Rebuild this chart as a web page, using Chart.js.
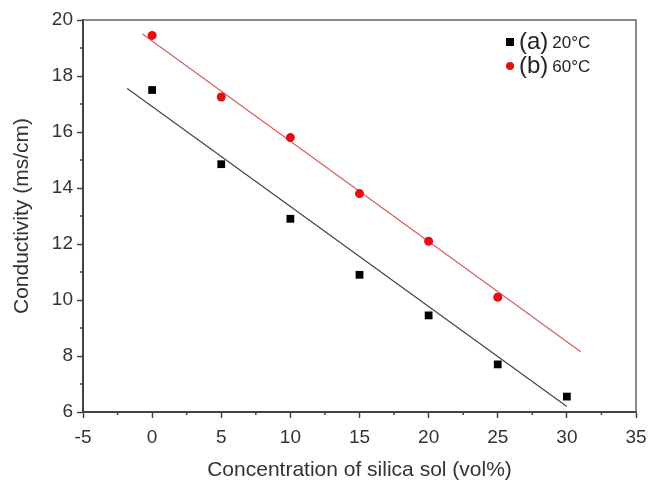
<!DOCTYPE html>
<html>
<head>
<meta charset="utf-8">
<script src="https://cdn.jsdelivr.net/npm/chart.js@4.4.0/dist/chart.umd.min.js"></script>
<style>
  html, body { margin: 0; padding: 0; background: #fff; }
  #wrap { width: 651px; height: 483px; }
</style>
</head>
<body>
<div id="wrap"><canvas id="myChart" width="651" height="483"></canvas></div>
<script>
// data
const conc = [0, 5, 10, 15, 20, 25, 30];
const cond20 = [17.5, 14.85, 12.9, 10.9, 9.45, 7.7, 6.55];
const concB = [0, 5, 10, 15, 20, 25];
const cond60 = [19.45, 17.25, 15.8, 13.8, 12.1, 10.1];
// fitted lines (end points as drawn)
const fit20x = [-1.8, 30];
const fit20y = [17.55, 6.2];
const fit60x = [-0.7, 31];
const fit60y = [19.5, 8.15];
const xTicks = [-5, 0, 5, 10, 15, 20, 25, 30, 35];
const yTicks = [6, 8, 10, 12, 14, 16, 18, 20];

const pts = (xs, ys) => xs.map((x, i) => ({ x: x, y: ys[i] }));
const FONT = '"Liberation Sans", Arial, sans-serif';

// minor ticks + frame + legend
const extras = {
    id: 'extras',
    afterDraw(chart) {
        const c = chart.ctx;
        const xs = chart.scales.x, ys = chart.scales.y;
        const a = chart.chartArea;
        c.save();
        c.strokeStyle = '#444';
        c.lineWidth = 1.5;
        for (let v = -2.5; v < 35; v += 5) {
            const px = xs.getPixelForValue(v);
            c.beginPath(); c.moveTo(px, a.bottom); c.lineTo(px, a.bottom + 3); c.stroke();
        }
        for (let v = 7; v < 20; v += 2) {
            const py = ys.getPixelForValue(v);
            c.beginPath(); c.moveTo(a.left, py); c.lineTo(a.left - 3, py); c.stroke();
        }
        // top and right frame
        c.strokeStyle = '#666';
        c.lineWidth = 1.5;
        c.beginPath();
        c.moveTo(a.left, a.top); c.lineTo(a.right, a.top); c.lineTo(a.right, a.bottom);
        c.stroke();

        // legend
        const lx = 510;
        c.fillStyle = '#000';
        c.fillRect(lx - 4, 38, 8, 8);
        c.fillStyle = '#e50d12';
        c.beginPath(); c.arc(lx, 66, 4, 0, Math.PI * 2); c.fill();
        c.fillStyle = '#222';
        c.textBaseline = 'middle';
        c.font = '24px ' + FONT;
        c.fillText('(a)', 519, 42);
        c.fillText('(b)', 519, 66);
        const w = c.measureText('(a)').width;
        c.font = '17px ' + FONT;
        c.fillText('20°C', 519 + w + 4, 43);
        c.fillText('60°C', 519 + w + 4, 67);
        c.restore();
    }
};

const ctx = document.getElementById('myChart').getContext('2d');
const myChart = new Chart(ctx, {
    type: 'scatter',
    data: {
        datasets: [{
            label: '(a) 20°C',
            data: pts(conc, cond20),
            pointStyle: 'rect',
            pointRadius: 5.5,
            backgroundColor: '#000',
            borderColor: '#000',
            borderWidth: 0
        }, {
            label: '(b) 60°C',
            data: pts(concB, cond60),
            pointStyle: 'circle',
            pointRadius: 4.5,
            backgroundColor: '#e50d12',
            borderColor: '#e50d12',
            borderWidth: 0
        }, {
            label: 'fit a',
            data: pts(fit20x, fit20y),
            showLine: true,
            pointRadius: 0,
            borderColor: '#444',
            borderWidth: 1.2
        }, {
            label: 'fit b',
            data: pts(fit60x, fit60y),
            showLine: true,
            pointRadius: 0,
            borderColor: '#e05a5a',
            borderWidth: 1.2
        }]
    },
    options: {
        responsive: false,
        animation: false,
        layout: { padding: { top: 20, right: 15, left: 0, bottom: 0 } },
        plugins: {
            legend: { display: false },
            tooltip: { enabled: false }
        },
        scales: {
            x: {
                type: 'linear',
                min: -5,
                max: 35,
                afterBuildTicks: s => { s.ticks = xTicks.map(v => ({ value: v })); },
                afterFit: s => { s.height = 71; s.paddingLeft = 0; s.paddingRight = 0; },
                border: { display: true, color: '#444', width: 2 },
                grid: { drawOnChartArea: false, drawTicks: true, tickLength: 6, color: '#444', tickWidth: 1.5 },
                ticks: { color: '#333', padding: 8, font: { size: 19, family: FONT }, maxRotation: 0 },
                title: {
                    display: true,
                    text: 'Concentration of silica sol (vol%)',
                    color: '#333',
                    font: { size: 21, family: FONT },
                    padding: { top: 3, bottom: 0 }
                }
            },
            y: {
                min: 6,
                max: 20,
                afterBuildTicks: s => { s.ticks = yTicks.map(v => ({ value: v })); },
                afterFit: s => { s.width = 83; s.paddingTop = 0; s.paddingBottom = 0; },
                border: { display: true, color: '#444', width: 2 },
                grid: { drawOnChartArea: false, drawTicks: true, tickLength: 6, color: '#444', tickWidth: 1.5 },
                ticks: { color: '#333', padding: 4, font: { size: 19, family: FONT } },
                title: {
                    display: true,
                    text: 'Conductivity (ms/cm)',
                    color: '#333',
                    font: { size: 21, family: FONT },
                    padding: { top: 10, bottom: 0 }
                }
            }
        }
    },
    plugins: [extras]
});
</script>
</body>
</html>
